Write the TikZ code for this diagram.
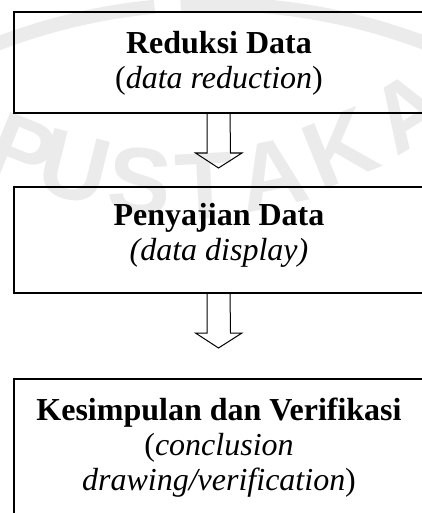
\documentclass[tikz,border=0pt]{standalone}
\usepackage{fontspec}
\setmainfont{Liberation Serif}
\newfontfamily\markfont{Liberation Sans}
\usetikzlibrary{calc}

\begin{document}
\begin{tikzpicture}[x=1pt, y=-1pt,
  stagebox/.style={draw, line width=1.6pt, rectangle, minimum width=410pt,
                   inner sep=0pt, outer sep=0pt, anchor=north west},
  stagetext/.style={align=center, inner sep=0pt, anchor=north,
                    font=\fontsize{32}{35}\selectfont},
  hollowarrow/.style={draw, line width=1pt, line join=miter},
  markletter/.style={font=\markfont\bfseries\fontsize{95}{95}\selectfont,
                     text=black!8, inner sep=0pt},
  markring/.style={draw=black!8, line width=14pt}]
\useasboundingbox (0,0) rectangle (422,513);

% faint library watermark behind the chart
\draw[markring] (212,604) ++(230:600) arc[start angle=230, end angle=264.5, radius=600];
\draw[markring] (212,604) ++(267:600) arc[start angle=267, end angle=310, radius=600];
\node[markletter, rotate=-22] (wmP)  at (22,152)  {P};
\node[markletter, rotate=-14] (wmU)  at (75,168)  {U};
\node[markletter, rotate=-5]  (wmS)  at (140,182) {S};
\node[markletter, rotate=3]   (wmT)  at (205,186) {T};
\node[markletter, rotate=12]  (wmA)  at (272,174) {A};
\node[markletter, rotate=22]  (wmK)  at (340,148) {K};
\node[markletter, rotate=32]  (wmA2) at (408,112) {A};

% the three stages
\node[stagebox, minimum height=101pt] (reduksi)   at (14,12)  {};
\node[stagebox, minimum height=106pt] (penyajian) at (14,187) {};
\node[stagebox, minimum height=151pt] (simpulan)  at (14,379) {};

\node[stagetext] (reduksiText) at ($(reduksi.north)+(0,19)$)
  {\textbf{Reduksi Data}\\(\textit{data reduction})};
\node[stagetext] (penyajianText) at ($(penyajian.north)+(0,16)$)
  {\textbf{Penyajian Data}\\\textit{(data display)}};
\node[stagetext] (simpulanText) at ($(simpulan.north)+(0,19)$)
  {\textbf{Kesimpulan dan Verifikasi}\\(\textit{conclusion}\\\textit{drawing/verification})};

% hollow block arrows between the stages
\coordinate (tipA) at ($(reduksi.south)+(-0.5,55)$);
\coordinate (tipB) at ($(penyajian.south)+(-0.5,55)$);
\draw[hollowarrow] ($(reduksi.south)+(-12,0)$) -- ++(0,40) -- ++(-11.5,0) -- (tipA)
  -- ($(reduksi.south)+(23,40)$) -- ++(-11.5,0) -- ($(reduksi.south)+(11,0)$);
\draw[hollowarrow] ($(penyajian.south)+(-12,0)$) -- ++(0,40) -- ++(-11.5,0) -- (tipB)
  -- ($(penyajian.south)+(23,40)$) -- ++(-11.5,0) -- ($(penyajian.south)+(11,0)$);
\end{tikzpicture}
\end{document}
